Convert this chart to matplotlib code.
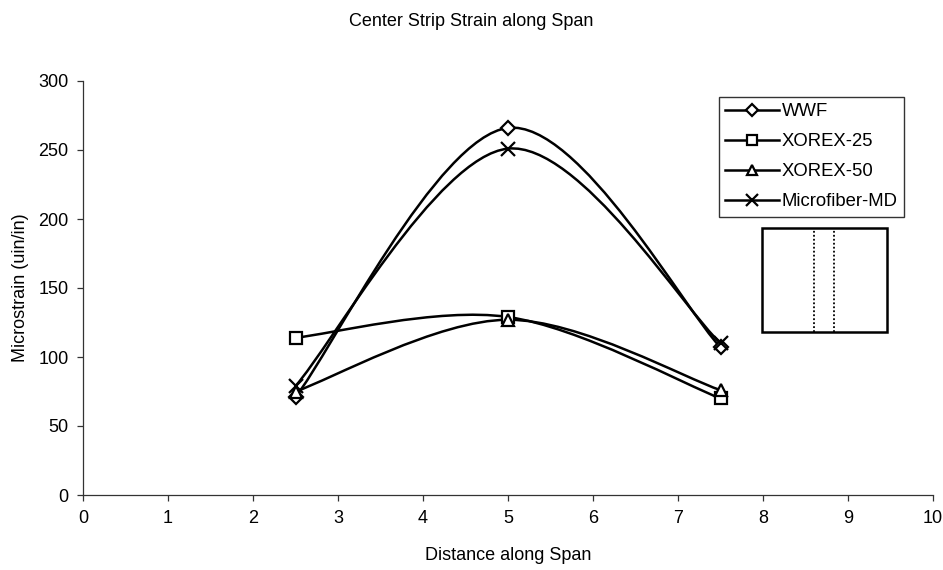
import matplotlib.pyplot as plt
import numpy as np
from matplotlib.path import Path
from matplotlib.patches import PathPatch, Rectangle
from matplotlib.lines import Line2D

plt.rcParams['font.family'] = ['Liberation Sans', 'DejaVu Sans']

# === Data ===
distance = [2.5, 5.0, 7.5]
wwf = [71, 266, 107]
xorex25 = [114, 129, 70]
xorex50 = [75, 127, 76]
microfiber = [79, 251, 110]

series = [
    ("WWF", wwf, "D", 7.5),
    ("XOREX-25", xorex25, "s", 9),
    ("XOREX-50", xorex50, "^", 9),
    ("Microfiber-MD", microfiber, "x", 10),
]


# Excel-style smoothed line: cubic Bezier through the points (Catmull-Rom, tension 1/6)
def smooth_path(xs, ys):
    pts = np.column_stack([xs, ys]).astype(float)
    n = len(pts)
    verts = [pts[0]]
    codes = [Path.MOVETO]
    for i in range(n - 1):
        p0 = pts[i - 1] if i > 0 else pts[i]
        p1 = pts[i]
        p2 = pts[i + 1]
        p3 = pts[i + 2] if i + 2 < n else pts[i + 1]
        c1 = p1 + (p2 - p0) / 6.0
        c2 = p2 - (p3 - p1) / 6.0
        verts += [c1, c2, p2]
        codes += [Path.CURVE4] * 3
    return Path(verts, codes)


fig = plt.figure(figsize=(9.43, 5.70), dpi=100)
ax = fig.add_axes([83 / 943, 1 - 495 / 570, (933 - 83) / 943, (495 - 81) / 570])

handles = []
for name, vals, mk, ms in series:
    ax.add_patch(PathPatch(smooth_path(distance, vals), facecolor="none",
                           edgecolor="black", linewidth=1.8, zorder=2))
    ax.plot(distance, vals, linestyle="none", marker=mk, markersize=ms,
            markerfacecolor="white" if mk != "x" else "black",
            markeredgecolor="black", markeredgewidth=1.6, zorder=3)
    handles.append(Line2D([], [], color="black", linewidth=1.8, marker=mk,
                          markersize=ms * 0.85, markerfacecolor="white",
                          markeredgecolor="black", markeredgewidth=1.6))

ax.set_xlim(0, 10)
ax.set_ylim(0, 300)
ax.set_xticks(range(0, 11))
ax.set_yticks(range(0, 301, 50))
for s in ["top", "right"]:
    ax.spines[s].set_visible(False)
for s in ["left", "bottom"]:
    ax.spines[s].set_color("#333333")
    ax.spines[s].set_linewidth(0.9)
ax.tick_params(direction="out", length=4, width=0.9, color="#333333",
               labelsize=13)
ax.tick_params(axis="x", pad=7)
ax.tick_params(axis="y", pad=6.5)

ax.set_xlabel("Distance along Span", fontsize=13)
ax.xaxis.label.set_va("center")
ax.xaxis.set_label_coords(0.5, -0.145)
ax.set_ylabel("Microstrain (uin/in)", fontsize=13)
ax.yaxis.label.set_va("center")
ax.yaxis.set_label_coords(-0.073, 0.5)
fig.text(0.5, 1 - 21 / 570, "Center Strip Strain along Span",
         ha="center", va="center", fontsize=13)

leg = fig.legend(handles, [s[0] for s in series], loc="upper right",
                 bbox_to_anchor=(904 / 943, 1 - 97 / 570), fontsize=13.3,
                 frameon=True, fancybox=False, handlelength=2.9,
                 handletextpad=0.15, borderpad=0.35, labelspacing=0.7,
                 borderaxespad=0)
leg.get_frame().set_edgecolor("black")
leg.get_frame().set_linewidth(1.0)

# little cross-section sketch under the legend
fig.add_artist(Rectangle((762 / 943, 1 - 332 / 570), (887 - 762) / 943,
                         (332 - 228) / 570, transform=fig.transFigure,
                         facecolor="white", edgecolor="black", linewidth=1.8))
for xp in [814, 834]:
    fig.add_artist(Line2D([xp / 943, xp / 943], [1 - 332 / 570, 1 - 228 / 570],
                          transform=fig.transFigure, color="black",
                          linestyle=(0, (1, 1.2)), linewidth=1.3))

plt.savefig("out.png", dpi=100)
